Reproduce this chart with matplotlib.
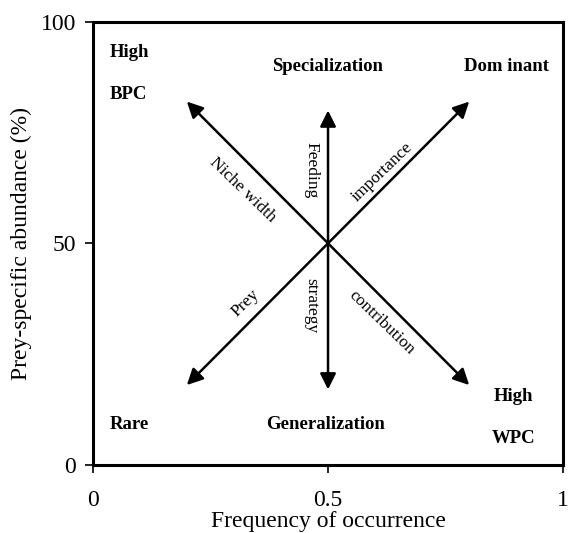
import matplotlib.pyplot as plt

plt.rcParams["font.family"] = ["Liberation Serif", "DejaVu Serif"]

# arrow tips, all drawn from the centre point
centre = (0.5, 50)
tip_x = [0.2, 0.8, 0.2, 0.8, 0.5, 0.5]
tip_y = [82, 82, 18, 18, 80, 17]

# quadrant labels
corner_text = ["High", "BPC", "Specialization", "Dom inant", "Rare", "Generalization", "High", "WPC"]
corner_x = [0.035, 0.035, 0.5, 0.88, 0.035, 0.495, 0.895, 0.895]
corner_y = [93, 83.5, 90, 90, 9, 9, 15.5, 6]
corner_ha = ["left", "left", "center", "center", "left", "center", "center", "center"]

# arrow labels
arrow_text = ["Niche width", "importance", "Feeding", "strategy", "Prey", "contribution"]
arrow_lx = [0.318, 0.615, 0.465, 0.465, 0.325, 0.613]
arrow_ly = [62, 66, 66.5, 36, 36.5, 32]
arrow_rot = [-44, 44, -90, -90, 44, -44]

fig = plt.figure(figsize=(5.69, 5.33), dpi=100)
ax = fig.add_axes([0.163, 0.128, 0.827, 0.831])

for tx, ty in zip(tip_x, tip_y):
    ax.annotate("", xy=(tx, ty), xytext=centre,
                arrowprops=dict(arrowstyle="-|>", color="black", lw=1.8,
                                mutation_scale=24, shrinkA=0, shrinkB=0))

for t, x, y, ha in zip(corner_text, corner_x, corner_y, corner_ha):
    ax.text(x, y, t, ha=ha, va="center", fontsize=13.5, fontweight="bold")

for t, x, y, r in zip(arrow_text, arrow_lx, arrow_ly, arrow_rot):
    ax.text(x, y, t, ha="center", va="center", rotation=r, fontsize=12.5,
            rotation_mode="anchor")

ax.set_xlim(0, 1)
ax.set_ylim(0, 100)
ax.set_xticks([0, 0.5, 1])
ax.set_xticklabels(["0", "0.5", "1"])
ax.set_yticks([0, 50, 100])
ax.tick_params(labelsize=17, length=6, width=1.2)
ax.tick_params(axis="x", pad=12)
ax.tick_params(axis="y", pad=6)
for s in ax.spines.values():
    s.set_linewidth(2.2)

ax.set_xlabel("Frequency of occurrence", fontsize=17, labelpad=0)
ax.set_ylabel("Prey-specific abundance (%)", fontsize=17, labelpad=6)

fig.savefig("out.png", dpi=100)
